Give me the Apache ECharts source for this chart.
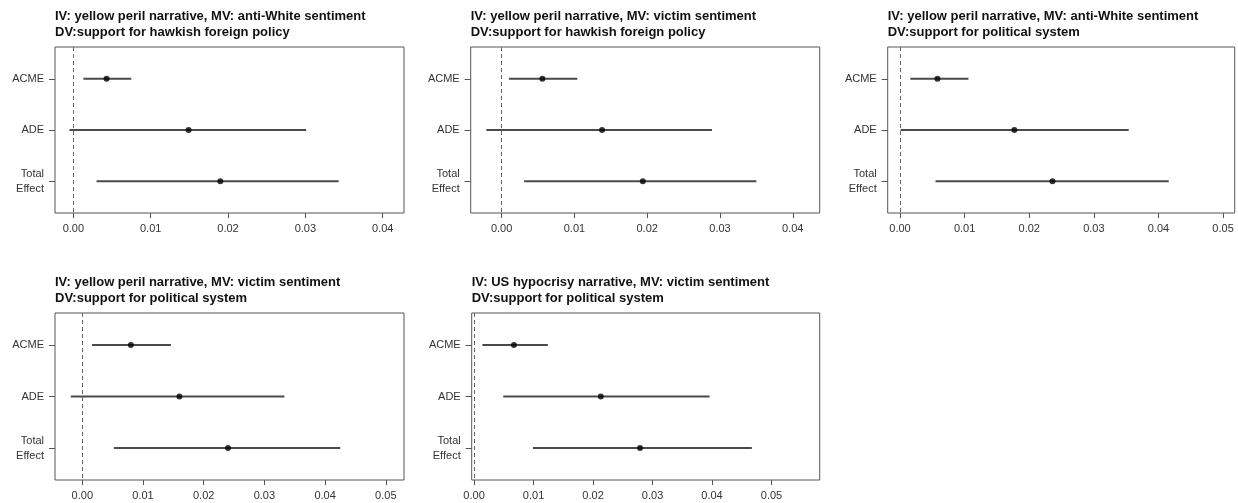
<!DOCTYPE html>
<html>
<head>
<meta charset="utf-8">
<script src="https://cdn.jsdelivr.net/npm/echarts@6/dist/echarts.min.js"></script>
<style>
  html, body { margin: 0; padding: 0; background: #fff; }
  #chart { width: 1238px; height: 503px; }
</style>
</head>
<body>
<div id="chart"></div>
<script>
// Causal mediation estimates: ACME, ADE and total effect with 95% intervals
const categories = ['ACME', 'ADE', 'Total\nEffect'];

const panelTitles = [
  'IV: yellow peril narrative, MV: anti-White sentiment\nDV:support for hawkish foreign policy',
  'IV: yellow peril narrative, MV: victim sentiment\nDV:support for hawkish foreign policy',
  'IV: yellow peril narrative, MV: anti-White sentiment\nDV:support for political system',
  'IV: yellow peril narrative, MV: victim sentiment\nDV:support for political system',
  'IV: US hypocrisy narrative, MV: victim sentiment\nDV:support for political system'
];

// point estimates (ACME, ADE, Total Effect)
const estimate1 = [0.0043, 0.0149, 0.0190];
const estimate2 = [0.0056, 0.0138, 0.0194];
const estimate3 = [0.0058, 0.0177, 0.0236];
const estimate4 = [0.0080, 0.0160, 0.0240];
const estimate5 = [0.0067, 0.0213, 0.0279];

// lower confidence bounds
const lower1 = [0.0013, -0.0005, 0.0030];
const lower2 = [0.0010, -0.0021, 0.0031];
const lower3 = [0.0016, 0.0001, 0.0055];
const lower4 = [0.0016, -0.0019, 0.0052];
const lower5 = [0.0014, 0.0049, 0.0099];

// upper confidence bounds
const upper1 = [0.0075, 0.0301, 0.0343];
const upper2 = [0.0104, 0.0289, 0.0350];
const upper3 = [0.0106, 0.0354, 0.0416];
const upper4 = [0.0146, 0.0333, 0.0425];
const upper5 = [0.0124, 0.0396, 0.0467];

// x-axis tick labels per panel
const xTicks1 = [0, 0.01, 0.02, 0.03, 0.04];
const xTicks2 = [0, 0.01, 0.02, 0.03, 0.04];
const xTicks3 = [0, 0.01, 0.02, 0.03, 0.04, 0.05];
const xTicks4 = [0, 0.01, 0.02, 0.03, 0.04, 0.05];
const xTicks5 = [0, 0.01, 0.02, 0.03, 0.04, 0.05];

const estimates = [estimate1, estimate2, estimate3, estimate4, estimate5];
const lowers = [lower1, lower2, lower3, lower4, lower5];
const uppers = [upper1, upper2, upper3, upper4, upper5];
const xTicks = [xTicks1, xTicks2, xTicks3, xTicks4, xTicks5];

// panel layout and axis extents
const boxes = [
  { left: 55,    top: 47,  width: 349, height: 166, min: -0.00237, max: 0.04275 },
  { left: 470.7, top: 47,  width: 349, height: 166, min: -0.00425, max: 0.0437 },
  { left: 887.7, top: 47,  width: 347, height: 166, min: -0.0019,  max: 0.0518 },
  { left: 55,    top: 313, width: 349, height: 167, min: -0.0045,  max: 0.0530 },
  { left: 471.7, top: 313, width: 348, height: 167, min: -0.0004,  max: 0.0581 }
];

const FONT = '"Liberation Sans", Arial, Helvetica, sans-serif';
const catValues = categories.map((_, i) => i + 1);

const option = {
  animation: false,
  backgroundColor: '#fff',
  title: [],
  grid: [],
  xAxis: [],
  yAxis: [],
  series: []
};

boxes.forEach((b, i) => {
  option.title.push({
    text: panelTitles[i],
    left: b.left,
    top: b.top - 39,
    padding: 0,
    textStyle: { fontFamily: FONT, fontSize: 13, fontWeight: 'bold', color: '#111', lineHeight: 16.5 }
  });
  option.grid.push({
    left: b.left, top: b.top, width: b.width, height: b.height,
    show: true, borderColor: '#555', borderWidth: 1, backgroundColor: 'transparent',
    containLabel: false
  });
  option.xAxis.push({
    type: 'value', gridIndex: i, min: b.min, max: b.max, position: 'bottom',
    axisLine: { show: false, onZero: false },
    splitLine: { show: false },
    axisTick: { show: true, customValues: xTicks[i], length: 5, lineStyle: { color: '#555' } },
    axisLabel: {
      customValues: xTicks[i], formatter: v => v.toFixed(2), margin: 10,
      fontFamily: FONT, fontSize: 11, color: '#333'
    }
  });
  option.yAxis.push({
    type: 'value', gridIndex: i, min: 0.38, max: 3.62, inverse: true, position: 'left',
    axisLine: { show: false, onZero: false },
    splitLine: { show: false },
    axisTick: { show: true, customValues: catValues, length: 6, lineStyle: { color: '#555' } },
    axisLabel: {
      customValues: catValues, formatter: v => categories[Math.round(v) - 1],
      margin: 11, fontFamily: FONT, fontSize: 11, color: '#333', lineHeight: 15, align: 'right'
    }
  });

  // confidence interval segments
  option.series.push({
    type: 'custom', xAxisIndex: i, yAxisIndex: i, silent: true,
    encode: { x: [1, 2], y: 0 },
    data: catValues.map((c, k) => [c, lowers[i][k], uppers[i][k]]),
    renderItem: (params, api) => {
      const y = api.value(0);
      const p1 = api.coord([api.value(1), y]);
      const p2 = api.coord([api.value(2), y]);
      return {
        type: 'line',
        shape: { x1: p1[0], y1: p1[1], x2: p2[0], y2: p2[1] },
        style: { stroke: '#4a4a4a', lineWidth: 2 }
      };
    }
  });

  // point estimates with the zero reference line
  option.series.push({
    type: 'scatter', xAxisIndex: i, yAxisIndex: i, silent: true,
    symbol: 'circle', symbolSize: 6,
    itemStyle: { color: '#000' },
    data: catValues.map((c, k) => [estimates[i][k], c]),
    z: 5,
    markLine: {
      silent: true, symbol: 'none',
      label: { show: false },
      lineStyle: { type: [4, 3], color: '#666', width: 1 },
      data: [{ xAxis: 0 }]
    }
  });
});

const chart = echarts.init(document.getElementById('chart'), null, { renderer: 'canvas' });
chart.setOption(option);
</script>
</body>
</html>
